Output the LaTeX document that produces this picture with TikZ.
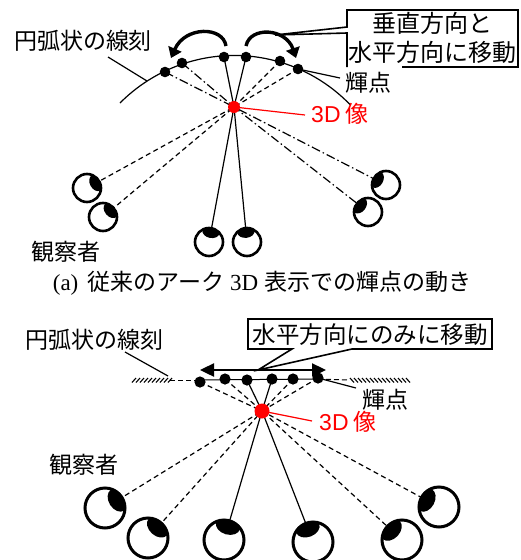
\documentclass[tikz,border=0pt]{standalone}
\usepackage{fontspec}
\setmainfont{Liberation Serif}
\setsansfont{Liberation Sans}
\newfontfamily\jpfont{Noto Sans CJK JP}
\usetikzlibrary{calc,arrows.meta}

\definecolor{imgred}{RGB}{255,0,0}

\tikzset{
  lbl/.style={font=\jpfont\fontsize{23pt}{29pt}\selectfont, inner sep=0pt, anchor=center},
  redlbl/.style={lbl, text=imgred},
  leader/.style={line width=1.2pt},
  redleader/.style={line width=1.2pt, draw=imgred},
  ray/.style={line width=1.2pt},
  dashray/.style={ray, dash pattern=on 5pt off 3.5pt},
  dotdashray/.style={ray, dash pattern=on 9pt off 3pt on 1.5pt off 3pt},
  movearrow/.style={line width=3.4pt, -{Triangle[length=10pt,width=14pt]}},
  slidearrow/.style={line width=2.4pt, {Triangle[length=14pt,width=13pt]}-{Triangle[length=14pt,width=13pt]}},
  callout/.style={line width=1.6pt, fill=white, line join=miter},
}

% eye: centre, radius (pt), facing angle, outline width
\newcommand\drawEye[4]{%
  \begin{scope}
    \clip (#1) circle[radius=#2pt];
    \fill[shift={($(#1)+(#3:{0.74*#2pt})$)}, rotate=#3]
      (0pt,0pt) ellipse[x radius={0.44*#2pt}, y radius={0.62*#2pt}];
  \end{scope}
  \draw[line width=#4] (#1) circle[radius=#2pt];
}

\begin{document}
\begin{tikzpicture}[x=1pt, y=-1pt]
\useasboundingbox (0,0) rectangle (520,560);

% ================= upper panel: arc hologram =================
\coordinate (arcL) at (120,103);
\draw[line width=1.2pt] (arcL) arc[start angle=135.2, end angle=44, radius=161pt];

% bright points on the arc
\coordinate (ua) at (165,72);
\coordinate (ub) at (182,63);
\coordinate (uc) at (224,57);
\coordinate (ud) at (246,57);
\coordinate (ue) at (280,61);
\coordinate (uf) at (298,69);
\coordinate (ured) at (234,107);

% observers
\coordinate (ue1) at (87,188);
\coordinate (ue2) at (103,217);
\coordinate (ue3) at (209,242);
\coordinate (ue4) at (247,242);
\coordinate (ue5) at (368,212);
\coordinate (ue6) at (386,185);

% rays through the reconstructed point
\draw[dashray] (uf) -- (ured) -- ($(ue1)!14pt!(ured)$);
\draw[dashray] (ue) -- (ured) -- ($(ue2)!14pt!(ured)$);
\draw[ray] (ud) -- (ured) -- ($(ue3)!14pt!(ured)$);
\draw[ray] (uc) -- (ured) -- ($(ue4)!14pt!(ured)$);
\draw[dotdashray] (ub) -- (ured) -- ($(ue5)!14pt!(ured)$);
\draw[dotdashray] (ua) -- (ured) -- ($(ue6)!14pt!(ured)$);

\foreach \p in {ua,ub,uc,ud,ue,uf} \fill (\p) circle[radius=5.3pt];
\fill[imgred] (ured) circle[radius=6pt];

\drawEye{ue1}{14}{29}{2.6pt}
\drawEye{ue2}{14}{40}{2.6pt}
\drawEye{ue3}{14}{79}{2.6pt}
\drawEye{ue4}{14}{96}{2.6pt}
\drawEye{ue5}{14}{142}{2.6pt}
\drawEye{ue6}{14}{150}{2.6pt}

% movement of the bright points
\coordinate (mlS) at (226,46);
\coordinate (mlE) at (171,58);
\coordinate (mrS) at (246,46);
\coordinate (mrE) at (296,58);
\draw[movearrow] (mlS) .. controls (223,26) and (185,26) .. (mlE);
\draw[movearrow] (mrS) .. controls (250,26) and (286,28) .. (mrE);

% callout
\coordinate (utip) at (275,35);
\draw[callout] (402,67) -- (518,67) -- (518,10) -- (347,10) -- (347,27)
  -- (utip) -- (347,33) -- (347,67);
\node[lbl, font=\jpfont\fontsize{24pt}{29pt}\selectfont, align=center] (umove) at (432,38)
  {垂直方向と\\水平方向に移動};

% labels
\node[lbl] (uline) at (83,41) {円弧状の線刻};
\coordinate (ulineA) at (108,57);
\coordinate (ulineB) at (147,81);
\draw[leader] (ulineA) -- (ulineB);

\node[lbl] (ubright) at (368,83) {輝点};
\coordinate (ubrightA) at (340,78);
\draw[leader] (uf) -- (ubrightA);

\node[redlbl] (uimg) at (340,114) {\textsf{3D} 像};
\coordinate (uimgA) at (305,115);
\draw[redleader] (ured) -- (uimgA);

\node[lbl] (uobs) at (66,252) {観察者};

% caption
\node[lbl] (ucap) at (262,283)
  {{\rmfamily (a)}\hspace{9pt}従来のアーク\hspace{6pt}{\rmfamily 3D}\hspace{6pt}表示での輝点の動き};

% ================= lower panel: horizontal-only movement =================
% hatched engraving line
\foreach \x in {132,136,...,168} \draw[line width=1.1pt] (\x,382.5) -- (\x+4,378);
\draw[line width=1pt, dash pattern=on 5pt off 3pt] (170,380) -- (200,380);
\draw[line width=1pt] (200,380) -- (318,379);
\draw[line width=1pt, dash pattern=on 5pt off 3pt] (318,379) -- (348,380);
\foreach \x in {350,354,...,406} \draw[line width=1.1pt] (\x,378) -- (\x+4,382.5);

\coordinate (la) at (200,382);
\coordinate (lb) at (225,379);
\coordinate (lc) at (247,380);
\coordinate (ld) at (272,379);
\coordinate (le) at (293,379);
\coordinate (lf) at (318,378);
\coordinate (lred) at (262,411);

\coordinate (le1) at (105,508);
\coordinate (le2) at (148,538);
\coordinate (le3) at (224,540);
\coordinate (le4) at (313,542);
\coordinate (le5) at (402,540);
\coordinate (le6) at (439,507);

\draw[dashray] (lf) -- (lred) -- ($(le1)!20pt!(lred)$);
\draw[dashray] (le) -- (lred) -- ($(le2)!20pt!(lred)$);
\draw[ray] (ld) -- (lred) -- ($(le3)!20pt!(lred)$);
\draw[ray] (lc) -- (lred) -- ($(le4)!20pt!(lred)$);
\draw[dashray] (lb) -- (lred) -- ($(le5)!20pt!(lred)$);
\draw[dashray] (la) -- (lred) -- ($(le6)!20pt!(lred)$);

\foreach \p in {la,lb,lc,ld,le,lf} \fill (\p) circle[radius=5.6pt];
\fill[imgred] (lred) circle[radius=7.5pt];

\drawEye{le1}{20}{32}{3pt}
\drawEye{le2}{20}{48}{3pt}
\drawEye{le3}{20}{74}{3pt}
\drawEye{le4}{20}{111}{3pt}
\drawEye{le5}{20}{137}{3pt}
\drawEye{le6}{20}{152}{3pt}

% horizontal movement
\coordinate (lmL) at (200,370);
\coordinate (lmR) at (326,370);
\draw[slidearrow] (lmL) -- (lmR);

\coordinate (ltip) at (258,370);
\draw[callout] (292,349) -- (248,349) -- (248,319) -- (492,319) -- (492,349)
  -- (352,349) -- (ltip) -- cycle;
\node[lbl, font=\jpfont\fontsize{23.5pt}{29pt}\selectfont] (lmove) at (370,335) {水平方向にのみに移動};

\node[lbl] (lline) at (94,340) {円弧状の線刻};
\coordinate (llineA) at (125,352);
\coordinate (llineB) at (168,376);
\draw[leader] (llineA) -- (llineB);

\node[lbl] (lbright) at (385,400) {輝点};
\coordinate (lbrightA) at (356,388);
\draw[leader] (lf) -- (lbrightA);

\node[redlbl] (limg) at (348,422) {\textsf{3D} 像};
\coordinate (limgA) at (312,421);
\draw[redleader] (lred) -- (limgA);

\node[lbl] (lobs) at (84,465) {観察者};
\end{tikzpicture}
\end{document}
